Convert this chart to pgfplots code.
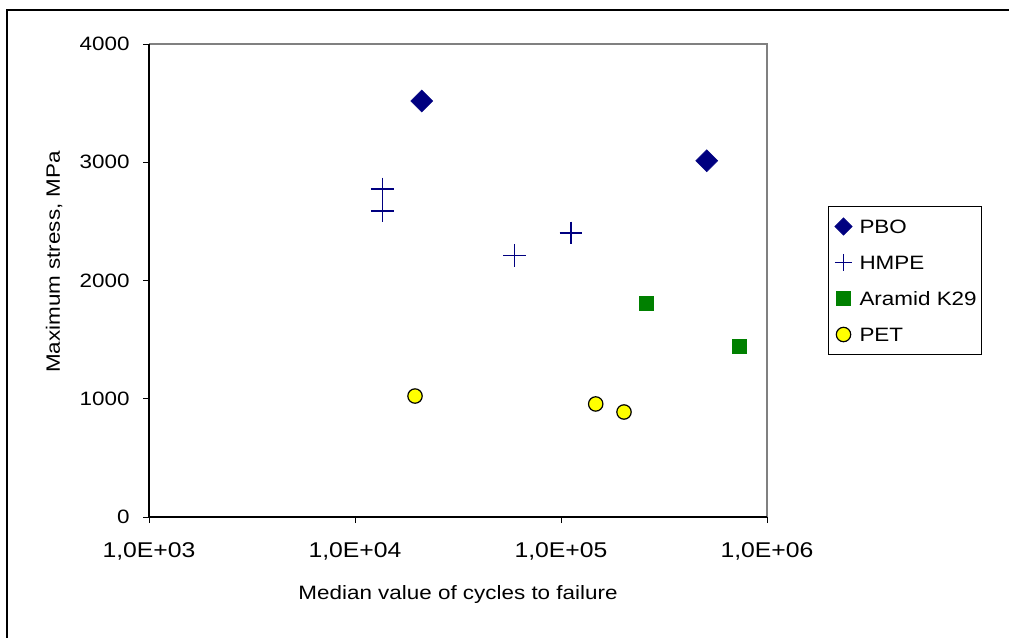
\documentclass[border=0pt]{standalone}
\usepackage{pgfplots}
\pgfplotsset{compat=1.18}
\usepackage{fontspec}
\setmainfont[FakeStretch=1.16]{Liberation Sans}
\definecolor{navyb}{RGB}{0,0,128}
\definecolor{xlgreen}{RGB}{0,128,0}
\definecolor{xlyellow}{RGB}{255,255,0}
\definecolor{xlgray}{RGB}{128,128,128}
\begin{document}
\fontsize{14.5}{17}\selectfont
\begin{tikzpicture}
\useasboundingbox (0pt,0pt) rectangle (756.75pt,477.75pt);
\draw[line width=1.5pt] (5.6pt,-2pt) -- (5.6pt,470.6pt) -- (760pt,470.6pt);
\begin{axis}[
  at={(111.75pt,90pt)}, anchor=south west,
  scale only axis, width=463.5pt, height=354.75pt,
  xmode=log, xmin=1e3, xmax=1e6, ymin=0, ymax=4000,
  clip=false,
  only marks,
  legend image code/.code={\path[draw=none,fill=none] (-8pt,-6.5pt) rectangle (8pt,6.5pt);
    \draw[mark repeat=1,#1] plot coordinates {(0pt,0pt)};},
  axis line style={draw=none},
  tick align=outside, tick pos=left,
  major tick length=4.5pt,
  tick style={black, line width=0.75pt},
  xminorticks=false, yminorticks=false,
  xtick={1e3,1e4,1e5,1e6},
  xticklabels={{1,0E+03},{1,0E+04},{1,0E+05},{1,0E+06}},
  ytick={0,1000,2000,3000,4000},
  /pgf/number format/assume math mode=true,
  /pgf/number format/1000 sep={},
  xticklabel style={yshift=-10pt, font=\fontsize{16}{19}\selectfont},
  yticklabel style={xshift=-5pt},
  xlabel={Median value of cycles to failure},
  xlabel style={at={(axis description cs:0.5,-0.1734)}, anchor=base},
  ylabel={Maximum stress, MPa},
  ylabel style={at={(axis description cs:-0.1537,0.539)}, anchor=center},
  legend style={at={(axis description cs:1.0987,0.6575)}, anchor=north west,
    draw=black, line width=0.75pt, inner xsep=3.25pt, inner ysep=8.5pt,
    row sep=14pt, column sep=4pt,
    nodes={inner sep=0pt, text height=11.5pt, text depth=1.5pt, anchor=west},
    cells={anchor=west}},
]
\draw[xlgray, line width=1.2pt] (rel axis cs:0,1) -- (rel axis cs:1,1) -- (rel axis cs:1,0);
\draw[black, line width=1pt] (rel axis cs:0,1) -- (rel axis cs:0,0) -- (rel axis cs:1,0);

\addplot[mark=square*, color=navyb, mark options={rotate=45}, mark size=5.8pt,
  legend image post style={mark size=4.5pt}]
  coordinates {(21080,3518) (509700,3013)};
\addlegendentry{PBO}
\addplot[mark=+, color=navyb, mark size=8.6pt, line width=1pt,
  legend image post style={mark size=6.4pt}]
  coordinates {(13570,2774) (13570,2588) (59610,2213) (111800,2402)};
\addlegendentry{HMPE}
\addplot[mark=square*, color=xlgreen, mark size=5.4pt]
  coordinates {(259500,1807) (733800,1444)};
\addlegendentry{Aramid K29}
\addplot[mark=*, draw=black, fill=xlyellow, mark size=5.4pt, line width=0.9pt]
  coordinates {(19560,1023) (147400,956) (202200,888)};
\addlegendentry{PET}
\end{axis}
\end{tikzpicture}
\end{document}
